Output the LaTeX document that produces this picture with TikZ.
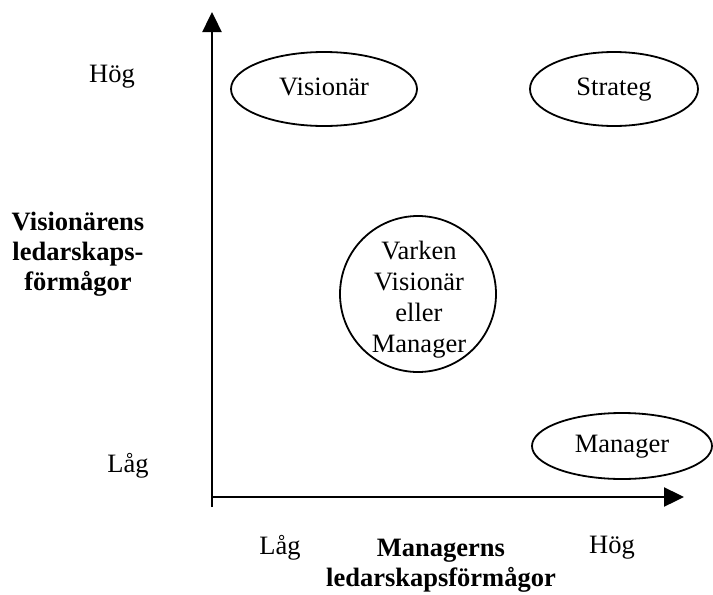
\documentclass[tikz,border=0pt]{standalone}
\usepackage{fontspec}
\setmainfont{Liberation Serif}
\usetikzlibrary{arrows.meta,shapes.geometric}
\begin{document}
\begin{tikzpicture}[x=1pt,y=-1pt,
  axis/.style={line width=2.4pt,-{Triangle[length=20pt,width=19pt]}},
  role/.style={draw,ellipse,line width=1.8pt,inner sep=0pt,text height=18pt,text depth=6pt,
               font=\fontsize{26.5}{31}\selectfont},
  label/.style={font=\fontsize{26.5}{31}\selectfont},
  title/.style={font=\fontsize{26.5}{30}\selectfont\bfseries,align=center}]
\useasboundingbox (0,0) rectangle (713,595);
% axes
\coordinate (ybottom) at (212,507);
\coordinate (ytip) at (212,12);
\coordinate (xstart) at (211,497);
\coordinate (xtip) at (684,497);
\draw[axis] (ybottom) -- (ytip);
\draw[axis] (xstart) -- (xtip);
% quadrants
\node[role,minimum width=186pt,minimum height=74pt] (vis) at (324,89) {Visionär};
\node[role,minimum width=168pt,minimum height=74pt] (strat) at (614,89) {Strateg};
\node[role,minimum width=180pt,minimum height=66pt] (man) at (622,446) {Manager};
\node[draw,circle,line width=1.8pt,minimum size=156pt,inner sep=0pt] (mid) at (418,294) {};
\node[align=center,font=\fontsize{26.5}{31}\selectfont] (midtext) at (419,300)
      {Varken\\Visionär\\eller\\Manager};
% axis labels
\node[label] (yhigh) at (112,77) {Hög};
\node[label] (ylow) at (128,466) {Låg};
\node[label] (xlow) at (280,548) {Låg};
\node[label] (xhigh) at (612,548) {Hög};
\node[title] (ytitle) at (78,254) {Visionärens\\ledarskaps-\\förmågor};
\node[title] (xtitle) at (441,566) {Managerns\\ledarskapsförmågor};
\end{tikzpicture}
\end{document}
